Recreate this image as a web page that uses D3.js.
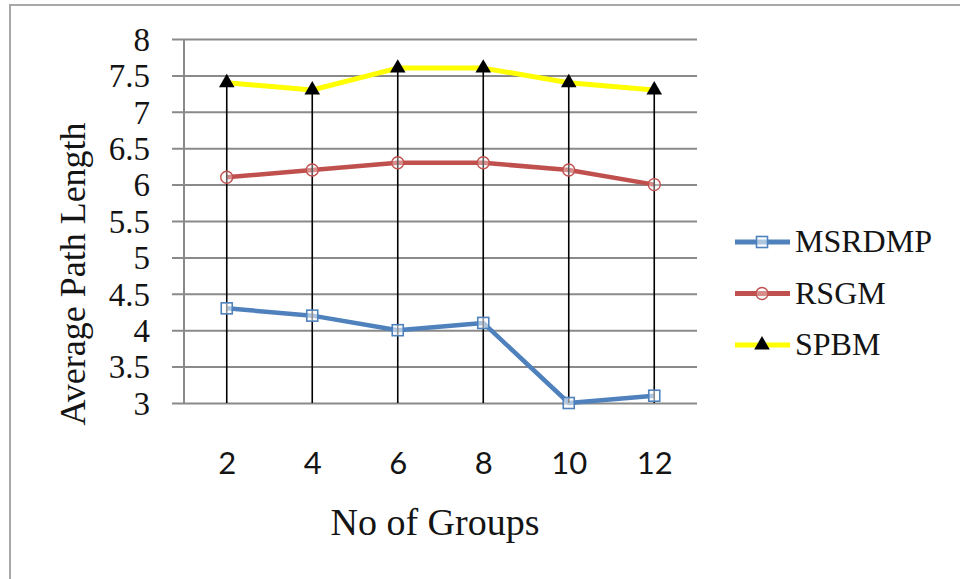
<!DOCTYPE html>
<html>
<head>
<meta charset="utf-8">
<script src="https://cdn.jsdelivr.net/npm/d3@7"></script>
<style>
  html, body { margin: 0; padding: 0; background: #fff; }
  svg { display: block; }
</style>
</head>
<body>
<svg id="chart" width="960" height="579"></svg>
<script>
// Average path length per number of groups, three schemes
const groups = ["2", "4", "6", "8", "10", "12"];
const msrdmp = [4.3, 4.2, 4.0, 4.1, 3.0, 3.1];
const rsgm   = [6.1, 6.2, 6.3, 6.3, 6.2, 6.0];
const spbm   = [7.4, 7.3, 7.6, 7.6, 7.4, 7.3];
const yTicks = [3, 3.5, 4, 4.5, 5, 5.5, 6, 6.5, 7, 7.5, 8];
const seriesNames = ["MSRDMP", "RSGM", "SPBM"];

const serif = "'Liberation Serif', 'Times New Roman', serif";
const sans = "Lato, 'Open Sans', sans-serif";
const textColor = "#141414";
const gridColor = "#8a8a8a";

const svg = d3.select("#chart");

// outer chart frame (only its top and left edges fall inside the page)
svg.append("rect")
  .attr("x", 10).attr("y", 5)
  .attr("width", 1000).attr("height", 1000)
  .attr("fill", "#fff")
  .attr("stroke", "#a8a8a8").attr("stroke-width", 2);

const plot = { left: 184, right: 697, top: 39, bottom: 403 };

const x = d3.scalePoint().domain(groups)
  .range([plot.left, plot.right]).padding(0.5);
const y = d3.scaleLinear().domain([3, 8])
  .range([plot.bottom, plot.top]);

// horizontal gridlines with outside tick stubs, labels on the left
const yAxis = d3.axisLeft(y)
  .tickValues(yTicks)
  .tickSize(-(plot.right - plot.left))
  .tickSizeOuter(0)
  .tickPadding(0)
  .tickFormat(d3.format("~g"));

const yG = svg.append("g")
  .attr("transform", `translate(${plot.left},0)`)
  .call(yAxis);
yG.select(".domain").remove();
yG.selectAll(".tick line")
  .attr("x1", -12)
  .attr("stroke", gridColor).attr("stroke-width", 2);
yG.selectAll(".tick text")
  .attr("x", -34)
  .attr("dy", "0.34em")
  .attr("fill", textColor)
  .style("font-family", serif)
  .style("font-size", "33px");

// vertical value axis line
svg.append("line")
  .attr("x1", plot.left).attr("x2", plot.left)
  .attr("y1", plot.top).attr("y2", plot.bottom)
  .attr("stroke", gridColor).attr("stroke-width", 2);

// category axis labels
const xAxis = d3.axisBottom(x).tickSize(0).tickPadding(0);
const xG = svg.append("g")
  .attr("transform", `translate(0,${plot.bottom})`)
  .call(xAxis);
xG.select(".domain").remove();
xG.selectAll(".tick text")
  .attr("y", 71)
  .attr("dy", 0)
  .attr("fill", textColor)
  .style("font-family", sans)
  .style("font-size", "31px");

const series = [
  { name: seriesNames[0], values: msrdmp, color: "#4f81bd", marker: "square" },
  { name: seriesNames[1], values: rsgm,   color: "#c0504d", marker: "circle" },
  { name: seriesNames[2], values: spbm,   color: "#ffff00", marker: "triangle" }
];

const line = d3.line()
  .x((d, i) => x(groups[i]))
  .y(d => y(d));

function drawMarker(g, type, color) {
  if (type === "square") {
    g.append("rect")
      .attr("x", -5.5).attr("y", -5.5)
      .attr("width", 11).attr("height", 11)
      .attr("fill", "rgba(255,255,255,0.55)")
      .attr("stroke", color).attr("stroke-width", 1.6);
  } else if (type === "circle") {
    g.append("circle")
      .attr("r", 6)
      .attr("fill", "rgba(255,255,255,0.35)")
      .attr("stroke", color).attr("stroke-width", 1.4);
  } else {
    g.append("path")
      .attr("d", d3.symbol().type(d3.symbolTriangle).size(105)())
      .attr("fill", "#000");
  }
}

series.forEach(s => {
  svg.append("path")
    .datum(s.values)
    .attr("fill", "none")
    .attr("stroke", s.color)
    .attr("stroke-width", s.marker === "triangle" ? 5 : 4.5)
    .attr("stroke-linejoin", "round")
    .attr("d", line);
});

// drop lines from the top series down to the category axis, over the series strokes
svg.append("g").selectAll("line")
  .data(groups)
  .join("line")
  .attr("x1", d => x(d)).attr("x2", d => x(d))
  .attr("y1", (d, i) => y(spbm[i]))
  .attr("y2", y(3))
  .attr("stroke", "#000").attr("stroke-width", 1.6);

series.forEach(s => {
  s.values.forEach((v, i) => {
    const g = svg.append("g")
      .attr("transform", `translate(${x(groups[i])},${y(v)})`);
    drawMarker(g, s.marker, s.color);
  });
});

// axis titles
svg.append("text")
  .attr("x", 435).attr("y", 535)
  .attr("text-anchor", "middle")
  .attr("fill", textColor)
  .style("font-family", serif)
  .style("font-size", "38px")
  .text("No of Groups");

svg.append("text")
  .attr("transform", "translate(85,274) rotate(-90)")
  .attr("text-anchor", "middle")
  .attr("fill", textColor)
  .style("font-family", serif)
  .style("font-size", "36px")
  .text("Average Path Length");

// legend
const legend = svg.append("g");
series.forEach((s, i) => {
  const cy = 242 + i * 51.5;
  const row = legend.append("g");
  row.append("line")
    .attr("x1", 735).attr("x2", 790)
    .attr("y1", cy).attr("y2", cy)
    .attr("stroke", s.color).attr("stroke-width", 5);
  const m = row.append("g").attr("transform", `translate(762,${cy})`);
  drawMarker(m, s.marker, s.color);
  row.append("text")
    .attr("x", 795).attr("y", cy + 10)
    .attr("fill", textColor)
    .style("font-family", serif)
    .style("font-size", "32px")
    .text(s.name);
});
</script>
</body>
</html>
